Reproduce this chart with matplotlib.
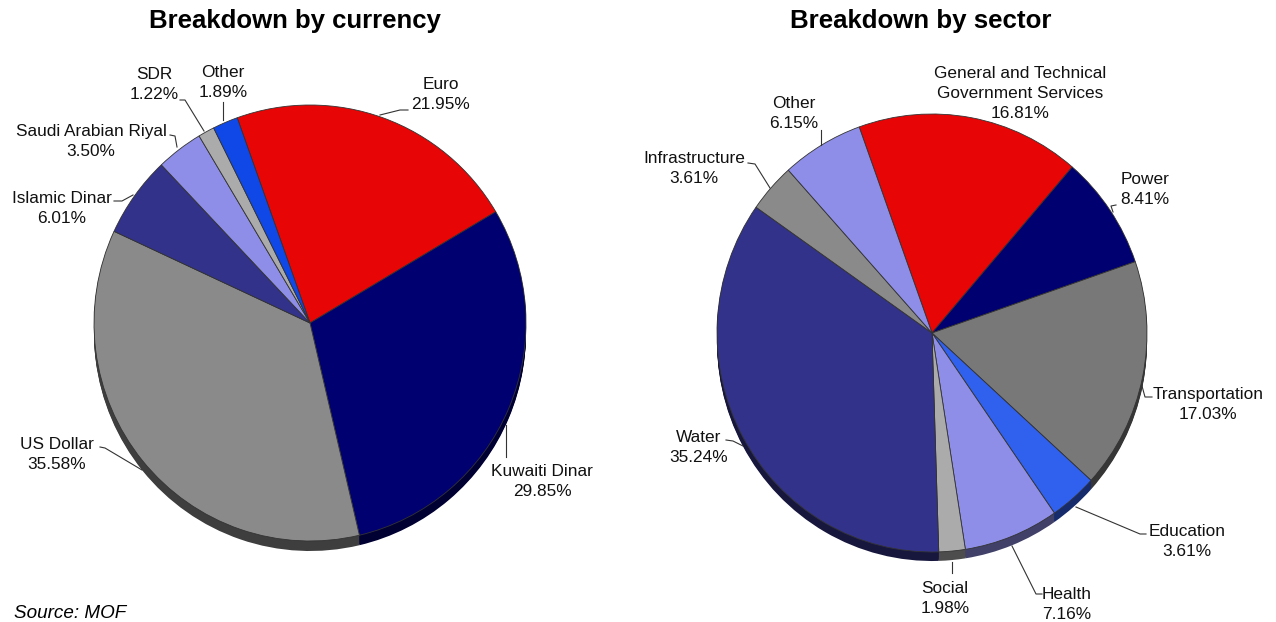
import matplotlib.pyplot as plt
from matplotlib.colors import to_rgb

W, H = 1276, 622

currency_names = ["Euro", "Kuwaiti Dinar", "US Dollar", "Islamic Dinar",
                  "Saudi Arabian Riyal", "SDR", "Other"]
currency_values = [21.95, 29.85, 35.58, 6.01, 3.50, 1.22, 1.89]
currency_colors = ["#e80505", "#000070", "#8a8a8a", "#32328a", "#8e8ee8", "#ababab", "#1048e8"]

sector_names = ["General and Technical\nGovernment Services", "Power", "Transportation",
                "Education", "Health", "Social", "Water", "Infrastructure", "Other"]
sector_values = [16.81, 8.41, 17.03, 3.61, 7.16, 1.98, 35.24, 3.61, 6.15]
sector_colors = ["#e80505", "#000070", "#787878", "#3060ee", "#8e8ee8", "#ababab",
                 "#32328a", "#8a8a8a", "#8e8ee8"]

# label centre (x, y of first line) in image pixels
currency_labels = [(441, 84), (542, 471), (57, 444), (62, 198), (91, 131), (154, 74), (223, 72)]
sector_labels = [(1020, 72), (1145, 179), (1208, 394), (1187, 531), (1067, 594),
                 (945, 588), (699, 437), (694, 158), (794, 103)]

# leader lines in image pixels
currency_leaders = [
    [(408, 110), (400, 110), (380, 115)],
    [(506, 425), (506, 457)],
    [(100, 447), (105, 448), (142, 470)],
    [(114, 201), (122, 201), (133, 195)],
    [(170, 135), (175, 136), (177, 147)],
    [(180, 100), (185, 100), (204, 131)],
    [(223, 102), (223, 120)],
]
sector_leaders = [
    [(1116, 205), (1111, 206), (1113, 212)],
    [(1152, 397), (1145, 397), (1142, 386)],
    [(1146, 534), (1140, 534), (1076, 507)],
    [(1042, 594), (1036, 594), (1012, 546)],
    [(952, 562), (952, 573)],
    [(726, 440), (733, 441), (743, 446)],
    [(748, 163), (755, 164), (770, 188)],
    [(821, 130), (821, 145)],
]

LINE_PX = 21.7


def darker(colors, k=0.45):
    return [tuple(c * k for c in to_rgb(col)) for col in colors]


def py(y):
    return H - y


def draw_pie(fig, values, colors, cx, cy, rx, ry, start, depth):
    # full figure axes in unit-radius coordinates, so the pie can be slightly taller than wide
    ax = fig.add_axes([0, 0, 1, 1])
    # extruded side first, then the face on top
    for d in range(depth, 0, -1):
        ax.pie(values, colors=darker(colors), center=(0, -d / ry), radius=1,
               startangle=start, counterclock=False, frame=True)
    ax.pie(values, colors=colors, center=(0, 0), radius=1, startangle=start,
           counterclock=False, frame=True,
           wedgeprops={"edgecolor": "#333333", "linewidth": 0.6})
    ax.set_aspect("auto")
    ax.set_xlim(-cx / rx, (W - cx) / rx)
    ax.set_ylim((cy - H) / ry, cy / ry)
    ax.axis("off")


def draw_labels(ax, names, values, positions, leaders):
    for name, val, (x, y) in zip(names, values, positions):
        n_lines = name.count("\n") + 2
        ax.text(x, py(y + (n_lines - 1) * LINE_PX / 2), f"{name}\n{val:.2f}%", ha="center",
                va="center", fontsize=12.4, color="#111111", linespacing=1.4)
    for line in leaders:
        ax.plot([p[0] for p in line], [py(p[1]) for p in line], color="#333333", lw=0.8)


plt.rcParams["font.family"] = ["Liberation Sans", "DejaVu Sans"]
fig = plt.figure(figsize=(W / 100, H / 100), dpi=100)

draw_pie(fig, currency_values, currency_colors, 310, 323, 216, 218, 109.7, 10)
draw_pie(fig, sector_values, sector_colors, 932, 333, 215, 219, 109.8, 9)

ax = fig.add_axes([0, 0, 1, 1])
ax.patch.set_alpha(0)

draw_labels(ax, currency_names, currency_values, currency_labels, currency_leaders)
draw_labels(ax, sector_names, sector_values, sector_labels, sector_leaders)

ax.text(295, py(21), "Breakdown by currency", ha="center", va="center", fontsize=18.5, fontweight="bold")
ax.text(920.5, py(21), "Breakdown by sector", ha="center", va="center", fontsize=18.6, fontweight="bold")
ax.text(14, py(613), "Source: MOF", ha="left", va="center", fontsize=13.6, style="italic")

ax.set_xlim(0, W)
ax.set_ylim(0, H)
ax.axis("off")
fig.savefig("out.png", dpi=100)
